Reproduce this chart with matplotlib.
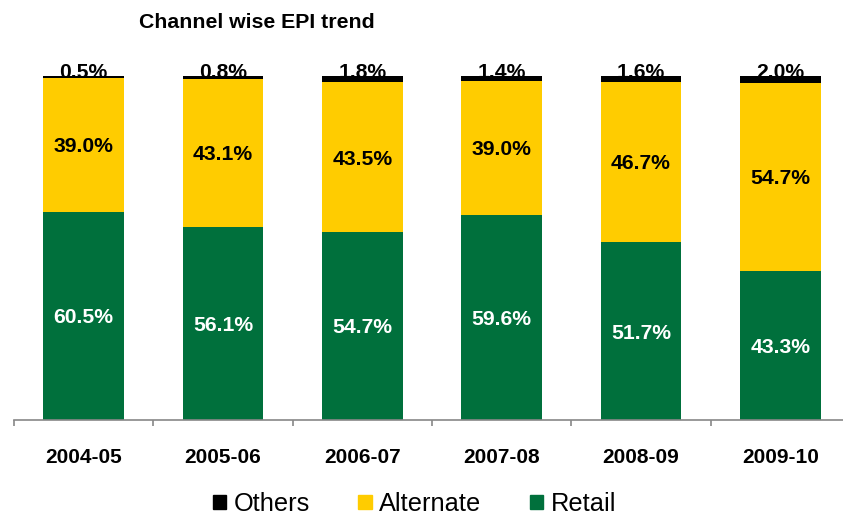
import numpy as np
import matplotlib
matplotlib.use('Agg')
import matplotlib.pyplot as plt
from matplotlib.patches import Patch

plt.rcParams['font.family'] = ['Liberation Sans', 'DejaVu Sans']

years = ['2004-05', '2005-06', '2006-07', '2007-08', '2008-09', '2009-10']
retail = [60.5, 56.1, 54.7, 59.6, 51.7, 43.3]
alternate = [39.0, 43.1, 43.5, 39.0, 46.7, 54.7]
others = [0.5, 0.8, 1.8, 1.4, 1.6, 2.0]

green = '#00703C'
yellow = '#FFCC00'
black = '#000000'

fig = plt.figure(figsize=(8.43, 5.15), dpi=100)
ax = fig.add_axes([14 / 843, 1 - 420 / 515, 836 / 843, 344 / 515])

x = np.arange(len(years))
w = 0.58
retail = np.array(retail)
alternate = np.array(alternate)
others = np.array(others)

ax.bar(x, retail, w, color=green, label='Retail')
ax.bar(x, alternate, w, bottom=retail, color=yellow, label='Alternate')
ax.bar(x, others, w, bottom=retail + alternate, color=black, label='Others')

lbl = dict(fontsize=15.2, fontweight='bold', ha='center')
for i in range(len(years)):
    ax.text(x[i], retail[i] / 2, f'{retail[i]:.1f}%', color='white',
            va='center_baseline', **lbl)
    ax.text(x[i], retail[i] + alternate[i] / 2, f'{alternate[i]:.1f}%', color='black',
            va='center_baseline', **lbl)
    top = retail[i] + alternate[i] + others[i]
    ax.annotate(f'{others[i]:.1f}%', (x[i], top), xytext=(0, -1.5), textcoords='offset points',
                va='baseline', color='black', **lbl)

ax.set_xlim(-0.5, len(years) - 0.5)
ax.set_ylim(0, 100)
for s in ['left', 'right', 'top']:
    ax.spines[s].set_visible(False)
ax.spines['bottom'].set_color('#888888')
ax.spines['bottom'].set_linewidth(1.2)
ax.set_yticks([])

ax.set_xticks(x)
ax.set_xticklabels(years, fontsize=15, fontweight='bold')
ax.tick_params(axis='x', which='major', length=0, pad=20)
ax.set_xticks(np.arange(-0.5, len(years)), minor=True)
ax.tick_params(axis='x', which='minor', length=4, width=1.2, color='#888888', direction='out')

fig.text(139 / 843, 1 - 22 / 515, 'Channel wise EPI trend', fontsize=15.3, fontweight='bold',
         ha='left', va='center')

handles = [Patch(color=black), Patch(color=yellow), Patch(color=green)]
fig.legend(handles, ['Others', 'Alternate', 'Retail'], loc='center',
           bbox_to_anchor=(414.5 / 843, 1 - 504 / 515), ncol=3, frameon=False, fontsize=18.3,
           handlelength=0.52, handleheight=0.52, handletextpad=0.3, columnspacing=1.9)

fig.savefig('out.png', dpi=100)
